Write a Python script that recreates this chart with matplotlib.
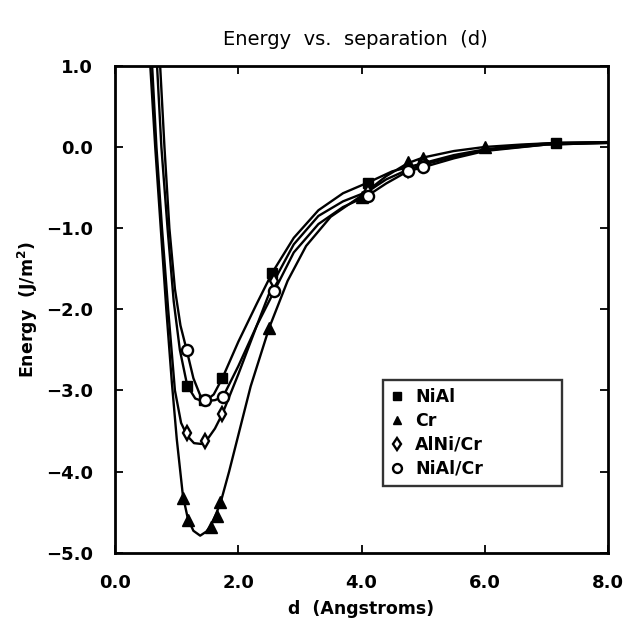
import matplotlib
matplotlib.use("Agg")
import matplotlib.pyplot as plt

# measured points (d in Angstrom, energy in J/m^2)
nial_d = [1.17, 1.45, 1.74, 2.55, 4.1, 5.0, 7.15]
nial_e = [-2.94, -3.12, -2.85, -1.55, -0.44, -0.22, 0.05]

cr_d = [1.1, 1.18, 1.55, 1.65, 1.7, 2.5, 4.0, 4.75, 5.0, 6.0]
cr_e = [-4.33, -4.6, -4.68, -4.55, -4.38, -2.23, -0.62, -0.19, -0.13, 0.0]

alnicr_d = [1.17, 1.46, 1.74, 2.58, 4.1, 4.75, 5.0]
alnicr_e = [-3.53, -3.62, -3.29, -1.65, -0.55, -0.28, -0.22]

nialcr_d = [1.16, 1.46, 1.75, 2.58, 4.1, 4.75, 5.0]
nialcr_e = [-2.5, -3.12, -3.08, -1.78, -0.6, -0.3, -0.25]

# fitted curves
nial_cd = [0.68, 0.75, 0.85, 0.95, 1.05, 1.17, 1.3, 1.45, 1.6, 1.74, 2.0, 2.3,
           2.55, 2.9, 3.3, 3.7, 4.1, 4.5, 5.0, 5.5, 6.0, 6.6, 7.15, 8.0]
nial_ce = [1.0, 0.0, -1.0, -1.9, -2.5, -2.94, -3.1, -3.14, -3.05, -2.85, -2.4,
           -1.93, -1.55, -1.12, -0.78, -0.57, -0.44, -0.3, -0.2, -0.1, -0.03,
           0.02, 0.05, 0.06]

cr_cd = [0.57, 0.65, 0.74, 0.83, 0.92, 1.0, 1.1, 1.18, 1.27, 1.38, 1.48, 1.56,
         1.65, 1.72, 1.85, 2.0, 2.2, 2.5, 2.8, 3.1, 3.5, 4.0, 4.4, 4.75, 5.0,
         5.5, 6.0, 6.6, 7.15, 8.0]
cr_ce = [1.0, 0.0, -1.0, -2.0, -2.9, -3.6, -4.3, -4.58, -4.73, -4.79, -4.74,
         -4.66, -4.5, -4.36, -4.0, -3.55, -2.95, -2.23, -1.65, -1.22, -0.86,
         -0.6, -0.36, -0.2, -0.13, -0.05, 0.0, 0.03, 0.05, 0.06]

alnicr_cd = [0.6, 0.67, 0.76, 0.86, 0.97, 1.07, 1.17, 1.28, 1.4, 1.5, 1.62,
             1.74, 2.0, 2.3, 2.58, 2.9, 3.3, 3.7, 4.1, 4.4, 4.75, 5.0, 5.5,
             6.0, 7.0, 8.0]
alnicr_ce = [1.0, 0.0, -1.0, -2.0, -3.0, -3.4, -3.56, -3.65, -3.66, -3.6, -3.47,
             -3.29, -2.8, -2.2, -1.65, -1.2, -0.85, -0.67, -0.55, -0.4, -0.28,
             -0.22, -0.12, -0.04, 0.03, 0.05]

nialcr_cd = [0.73, 0.8, 0.88, 0.97, 1.06, 1.16, 1.27, 1.38, 1.5, 1.62, 1.75,
             2.0, 2.3, 2.58, 2.9, 3.3, 3.7, 4.1, 4.4, 4.75, 5.0, 5.5, 6.0,
             7.0, 8.0]
nialcr_ce = [1.0, 0.0, -1.0, -1.75, -2.2, -2.5, -2.85, -3.06, -3.13, -3.12,
             -3.08, -2.7, -2.2, -1.78, -1.3, -0.95, -0.74, -0.6, -0.45, -0.3,
             -0.25, -0.14, -0.05, 0.03, 0.05]

xticks = [0, 2, 4, 6, 8]
yticks = [1, 0, -1, -2, -3, -4, -5]

fig = plt.figure(figsize=(6.26, 6.21), dpi=100)
ax = fig.add_axes([0.184, 0.11, 0.787, 0.784])

lw = 1.7
for cd, ce in [(nial_cd, nial_ce), (cr_cd, cr_ce), (alnicr_cd, alnicr_ce),
               (nialcr_cd, nialcr_ce)]:
    ax.plot(cd, ce, 'k-', lw=lw, solid_joinstyle='round')

ax.plot(nial_d, nial_e, 's', color='k', ms=7.5, ls='none', label='NiAl')
ax.plot(cr_d, cr_e, '^', color='k', ms=8, ls='none', label='Cr')
ax.plot(alnicr_d, alnicr_e, 'd', mfc='white', mec='k', mew=1.7, ms=7.5, ls='none',
        label='AlNi/Cr')
ax.plot(nialcr_d, nialcr_e, 'o', mfc='white', mec='k', mew=1.7, ms=8, ls='none',
        label='NiAl/Cr')

ax.set_xlim(0, 8)
ax.set_ylim(-5, 1)
ax.set_xticks(xticks)
ax.set_yticks(yticks)
ax.set_xticklabels(['%.1f' % v for v in xticks], fontsize=13, fontweight='bold')
ax.set_yticklabels([('%.1f' % v).replace('-', '\u2212') for v in yticks],
                   fontsize=13, fontweight='bold')
ax.tick_params(direction='in', length=6, width=1.3, top=True, right=True)
ax.tick_params(axis='x', pad=15)
ax.tick_params(axis='y', pad=16)
for s in ax.spines.values():
    s.set_linewidth(2)

ax.set_xlabel('d  (Angstroms)', fontsize=12.5, fontweight='bold', labelpad=6)
ax.set_ylabel('Energy  (J/m$^\\mathbf{2}$)', fontsize=12.5, fontweight='bold',
              labelpad=4)
fig.text(0.567, 0.936, 'Energy  vs.  separation  (d)', fontsize=14, ha='center',
         va='center')

leg = ax.legend(loc='upper left', bbox_to_anchor=(0.544, 0.15, 0.363, 0.205),
                mode='expand', frameon=True, fancybox=False, edgecolor='k',
                fontsize=12.5, handlelength=0.7, handletextpad=0.7,
                borderpad=0.45, labelspacing=0.35, markerscale=0.8,
                borderaxespad=0)
leg.get_frame().set_linewidth(1.7)
for t in leg.get_texts():
    t.set_fontweight('bold')

fig.savefig('out.png', dpi=100)
